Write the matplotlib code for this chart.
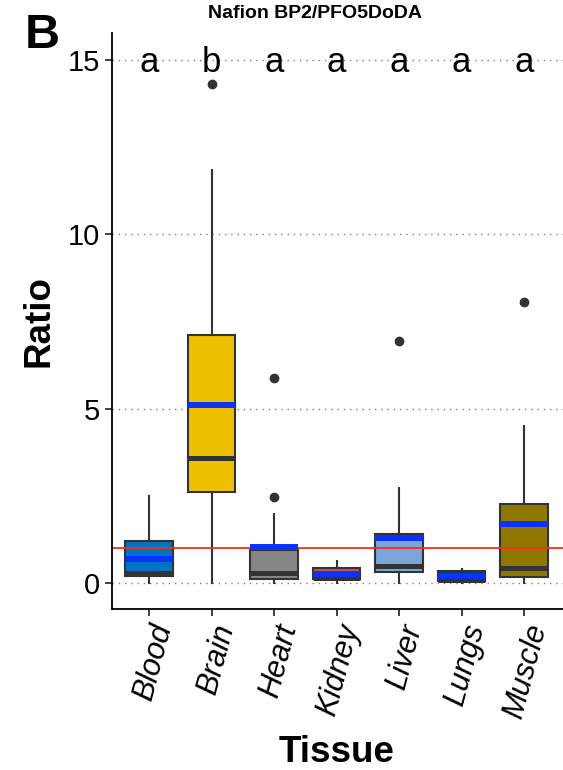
import matplotlib
matplotlib.use("Agg")
import matplotlib.pyplot as plt

# ---- data ----
tissues = ["Blood", "Brain", "Heart", "Kidney", "Liver", "Lungs", "Muscle"]
fill_colors = ["#0073C2", "#EFC000", "#868686", "#CD534C", "#7AA6DC", "#003C67", "#8F7700"]
whisker_low = [0.00, 0.00, 0.02, 0.00, 0.00, 0.00, 0.00]
q1 = [0.21, 2.62, 0.11, 0.12, 0.32, 0.07, 0.18]
median = [0.30, 3.59, 0.29, 0.15, 0.50, 0.10, 0.43]
q3 = [1.21, 7.12, 0.96, 0.43, 1.41, 0.36, 2.28]
whisker_high = [2.50, 11.84, 1.99, 0.64, 2.74, 0.41, 4.51]
mean = [0.70, 5.11, 1.04, 0.26, 1.30, 0.22, 1.70]
outliers = [[], [14.31], [2.46, 5.88], [], [6.95], [], [8.06]]
group_letters = ["a", "b", "a", "a", "a", "a", "a"]
letter_y = 15
ref_ratio = 1.0
yticks = [0, 5, 10, 15]

W, H = 563, 770
fig = plt.figure(figsize=(W / 100, H / 100), dpi=100)
plt.rcParams["font.family"] = ["Liberation Sans", "DejaVu Sans"]

left_px, right_px, top_px, bot_px = 111.5, 563, 33, 609
ax = fig.add_axes([left_px / W, 1 - bot_px / H, (right_px - left_px) / W, (bot_px - top_px) / H])

stats = []
for i, t in enumerate(tissues):
    stats.append(dict(label=t, whislo=whisker_low[i], q1=q1[i], med=median[i], q3=q3[i],
                      whishi=whisker_high[i], mean=mean[i], fliers=outliers[i]))

pos = list(range(len(tissues)))
for yv in yticks:
    ax.axhline(yv, color="#7f7f7f", lw=1.0, ls=(0, (1, 3.5)), zorder=0)

bp = ax.bxp(stats, positions=pos, widths=0.76, patch_artist=True, showcaps=False,
            showmeans=True, meanline=True, showfliers=True,
            boxprops=dict(edgecolor="#333333", linewidth=1.5),
            whiskerprops=dict(color="#333333", linewidth=1.5),
            medianprops=dict(color="#333333", linewidth=3.6, solid_capstyle="butt"),
            meanprops=dict(color="#0A32FF", linewidth=4.3, linestyle="-", solid_capstyle="butt"),
            flierprops=dict(marker="o", markersize=6, markerfacecolor="#333333",
                            markeredgecolor="#333333"))
for patch, c in zip(bp["boxes"], fill_colors):
    patch.set_facecolor(c)
for w in bp["whiskers"]:
    w.set_zorder(1)
for b in bp["boxes"]:
    b.set_zorder(2)
for m in bp["medians"]:
    m.set_zorder(3)
for m in bp["means"]:
    m.set_zorder(4)

ax.axhline(ref_ratio, color="#FF2A1A", lw=1.3, zorder=2.5)

for x, lab in zip(pos, group_letters):
    ax.annotate(lab, (x, letter_y), xytext=(0, -3), textcoords="offset pixels",
                ha="center", va="center", fontsize=25, color="black", zorder=5)

ax.set_xlim(-0.6, (right_px - 149) / 62.5)
ax.set_ylim(-0.736, 15.77)
ax.set_yticks(yticks)
ax.set_yticklabels([str(v) for v in yticks], fontsize=21)
ax.set_xticks(pos)
ax.set_xticklabels(tissues, fontsize=22, style="italic", rotation=75,
                   ha="right", va="top", rotation_mode="anchor")
ax.tick_params(axis="both", length=5, width=1.3, color="#333333", labelcolor="black")
ax.tick_params(axis="y", pad=3)
ax.tick_params(axis="x", pad=3.5)
for s in ["top", "right"]:
    ax.spines[s].set_visible(False)
for s in ["left", "bottom"]:
    ax.spines[s].set_linewidth(1.3)
    ax.spines[s].set_color("black")

fig.text(39 / W, 1 - 321 / H, "Ratio", rotation=90, ha="center", va="center",
         fontsize=26.5, fontweight="bold")
fig.text(336.5 / W, 1 - 753 / H, "Tissue", ha="center", va="center",
         fontsize=26.5, fontweight="bold")
fig.text(314.5 / W, 1 - 13 / H, "Nafion BP2/PFO5DoDA", ha="center", va="center",
         fontsize=14, fontweight="bold")
fig.text(42 / W, 1 - 36 / H, "B", ha="center", va="center", fontsize=35, fontweight="bold")

fig.savefig("out.png", dpi=100)
